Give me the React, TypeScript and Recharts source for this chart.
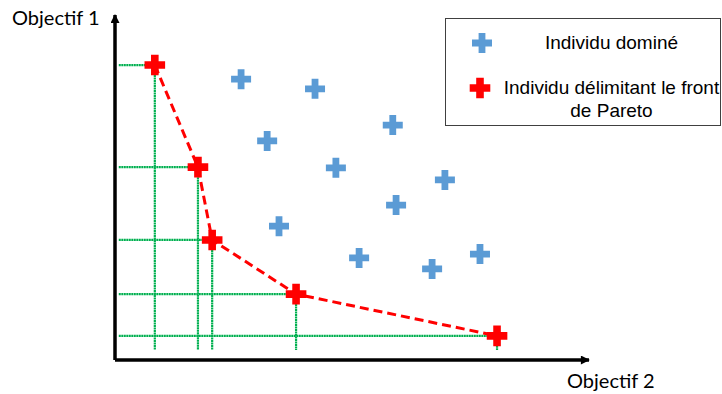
import React from 'react';
import { ScatterChart, Scatter, XAxis, YAxis, ReferenceLine, Legend } from 'recharts';

// points, both objectives on a 0-100 scale
const dominatedX = [26.6, 42.2, 32.1, 58.6, 46.6, 69.6, 59.3, 34.6, 51.5, 66.9, 77.0];
const dominatedY = [81.4, 78.6, 63.5, 68.1, 55.7, 52.2, 44.9, 38.8, 29.6, 26.4, 30.7];
const paretoX = [8.4, 17.5, 20.5, 38.2, 80.6];
const paretoY = [85.5, 55.9, 34.8, 19.1, 7.0];
const dropY = 2.9; // where the green guides stop above the x axis

const axisTitles = ['Objectif 1', 'Objectif 2'];
const dominatedLabel = ['Individu dominé'];
const paretoLabel = ['Individu délimitant le front', 'de Pareto'];

const BLUE = '#5B9BD5';
const RED = '#FF0000';
const GREEN = '#00B050';

const dominated = dominatedX.map((x, i) => ({ x, y: dominatedY[i] }));
const pareto = paretoX.map((x, i) => ({ x, y: paretoY[i] }));

// thick plus sign, 20px across with 7px arms
const crossPath = (cx: number, cy: number, s = 10, t = 3.4) =>
    `M${cx - t},${cy - s}H${cx + t}V${cy - t}H${cx + s}V${cy + t}H${cx + t}V${cy + s}H${cx - t}V${cy + t}H${cx - s}V${cy - t}H${cx - t}Z`;

const Cross = (color: string, s = 10, t = 3.4) => (props: any) =>
    <path d={crossPath(props.cx, props.cy, s, t)} fill={color} />;

const renderLegend = () => (
    <div style={{
        position: 'relative', width: 276, height: 108, boxSizing: 'border-box',
        border: '1px solid #404040', background: '#fff', color: '#000',
        fontFamily: '"Liberation Sans", Arial, sans-serif', fontSize: 19,
    }}>
        <svg width={22} height={22} style={{ position: 'absolute', left: 25, top: 13 }}>
            <path d={crossPath(11, 11)} fill={BLUE} />
        </svg>
        <div style={{ position: 'absolute', left: 55, top: 13, width: 221, textAlign: 'center', lineHeight: '22px' }}>
            {dominatedLabel[0]}
        </div>
        <svg width={22} height={22} style={{ position: 'absolute', left: 23, top: 58 }}>
            <path d={crossPath(11, 11, 10.3, 3.8)} fill={RED} />
        </svg>
        <div style={{ position: 'absolute', left: 55, top: 58, width: 221, textAlign: 'center', lineHeight: '22.7px' }}>
            {paretoLabel.map((l, i) => <div key={i}>{l}</div>)}
        </div>
    </div>
);

export default function App() {
    return (
        <div>
            <style>{'body{margin:0}'}</style>
            <svg width={0} height={0} style={{ position: 'absolute' }}>
                <defs>
                    <marker id="axisArrow" viewBox="0 0 10 10" refX={9} refY={5}
                        markerWidth={10} markerHeight={9} markerUnits="userSpaceOnUse" orient="auto-start-reverse">
                        <path d="M0,0 L10,5 L0,10 z" fill="#000" />
                    </marker>
                </defs>
            </svg>
            <ScatterChart width={722} height={394} margin={{ top: 15, left: 114, right: 133, bottom: 33 }}>
                <XAxis type="number" dataKey="x" domain={[0, 100]} height={1} tick={false} tickLine={false}
                    axisLine={{ stroke: '#000', strokeWidth: 3.5, markerEnd: 'url(#axisArrow)' }} />
                <YAxis type="number" dataKey="y" domain={[0, 100]} width={1} tick={false} tickLine={false}
                    axisLine={{ stroke: '#000', strokeWidth: 3.5, markerStart: 'url(#axisArrow)' }} />

                {/* green guides from each front point to both axes */}
                {pareto.map((p, i) => (
                    <ReferenceLine key={`h${i}`} segment={[{ x: 0.8, y: p.y }, { x: p.x, y: p.y }]}
                        stroke={GREEN} strokeWidth={2.2} strokeDasharray="2 0.5" ifOverflow="visible" />
                ))}
                {pareto.map((p, i) => (
                    <ReferenceLine key={`v${i}`} segment={[{ x: p.x, y: p.y }, { x: p.x, y: dropY }]}
                        stroke={GREEN} strokeWidth={2.2} strokeDasharray="2 0.5" ifOverflow="visible" />
                ))}

                <Scatter name="dominated" data={dominated} fill={BLUE} shape={Cross(BLUE)} isAnimationActive={false} />
                <Scatter name="pareto" data={pareto} fill={RED} shape={Cross(RED, 10.3, 3.8)} isAnimationActive={false}
                    line={{ stroke: RED, strokeWidth: 3, strokeDasharray: '9 5' }} lineType="joint" />

                <Legend layout="horizontal" verticalAlign="middle" align="center" content={renderLegend}
                    wrapperStyle={{ left: 445, top: 18, width: 276, height: 108 }} />

                <text x={12} y={25} fontFamily="Lato, sans-serif" fontSize={20} fill="#000">{axisTitles[0]}</text>
                <text x={567} y={388} fontFamily="Lato, sans-serif" fontSize={20} fill="#000">{axisTitles[1]}</text>
            </ScatterChart>
        </div>
    );
}
